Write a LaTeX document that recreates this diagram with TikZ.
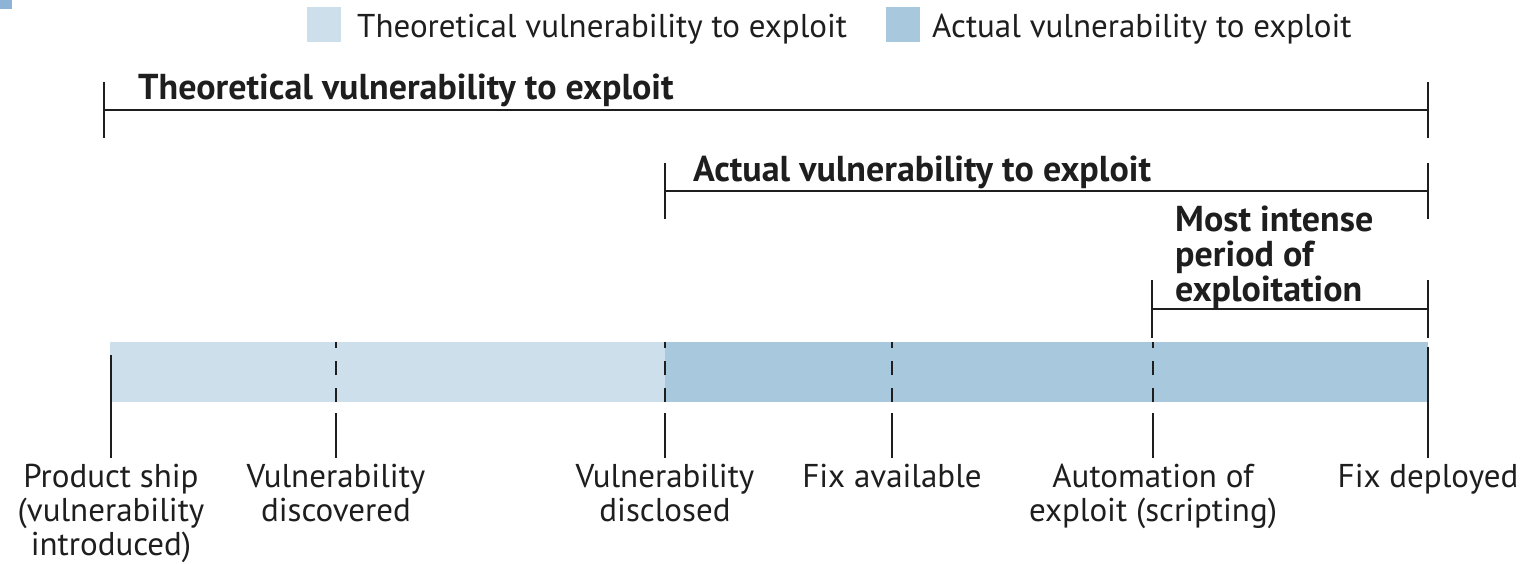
\documentclass[tikz,border=0pt]{standalone}
\usepackage{fontspec}
\setmainfont{PT Sans}
\usetikzlibrary{calc}
\definecolor{theo}{RGB}{205,223,235}
\definecolor{actual}{RGB}{168,200,222}
\definecolor{corner}{RGB}{141,180,214}
\definecolor{ink}{RGB}{30,30,30}
\begin{document}
\begin{tikzpicture}[x=1pt,y=-1pt,
  tickline/.style={draw=ink,line width=2.4pt},
  spanline/.style={draw=ink,line width=2pt},
  eventdash/.style={draw=ink,line width=2.6pt,dash pattern=on 14pt off 13pt},
  eventline/.style={draw=ink,line width=2.6pt},
  evlabel/.style={font=\fontsize{33}{34}\selectfont,align=center,inner sep=0pt,anchor=north,text=ink},
  spanlabel/.style={font=\fontsize{36}{35}\selectfont\bfseries,align=left,inner sep=0pt,anchor=north west,text=ink},
  legtext/.style={font=\fontsize{33}{34}\selectfont,inner sep=0pt,anchor=base west,text=ink}]
\useasboundingbox (0,0) rectangle (1527,563);

% corner mark
\fill[corner] (0,0) rectangle (12,9);

% legend
\fill[theo] (307,7) rectangle (341,42);
\node[legtext] (legA) at (357,37) {Theoretical vulnerability to exploit};
\fill[actual] (886,7) rectangle (920,42);
\node[legtext] (legB) at (932,37) {Actual vulnerability to exploit};

% timeline bar
\fill[theo] (110,342) rectangle (665,402);
\fill[actual] (665,342) rectangle (1428,402);

% span brackets
\coordinate (thL) at (104,110);
\coordinate (thR) at (1428,110);
\coordinate (acL) at (665,191);
\coordinate (acR) at (1428,191);
\coordinate (miL) at (1152,309);
\coordinate (miR) at (1428,309);

\draw[spanline] (thL) -- (thR);
\draw[tickline] ($(thL)+(0,-28)$) -- ($(thL)+(0,28)$);
\draw[tickline] ($(thR)+(0,-28)$) -- ($(thR)+(0,28)$);
\node[spanlabel] (thT) at (138,74) {Theoretical vulnerability to exploit};

\draw[spanline] (acL) -- (acR);
\draw[tickline] ($(acL)+(0,-28)$) -- ($(acL)+(0,28)$);
\draw[tickline] ($(acR)+(0,-28)$) -- ($(acR)+(0,28)$);
\node[spanlabel] (acT) at (693,156) {Actual vulnerability to exploit};

\draw[spanline] (miL) -- (miR);
\draw[tickline] ($(miL)+(0,-29)$) -- ($(miL)+(0,29)$);
\draw[tickline] ($(miR)+(0,-29)$) -- ($(miR)+(0,29)$);
\node[spanlabel] (miT) at (1175,206) {Most intense\\period of\\exploitation};

% events on the timeline
\coordinate (e1) at (111,402);
\coordinate (e2) at (336,402);
\coordinate (e3) at (665,402);
\coordinate (e4) at (892,402);
\coordinate (e5) at (1153,402);
\coordinate (e6) at (1428,402);

\foreach \e in {e2,e3,e4,e5}{
  \draw[eventdash] (\e) -- ($(\e)+(0,-60)$);
  \draw[eventline] ($(\e)+(0,11)$) -- ($(\e)+(0,56)$);
}
\draw[eventline] ($(e1)+(0,-47)$) -- ($(e1)+(0,56)$);
\draw[eventline] ($(e6)+(0,-55)$) -- ($(e6)+(0,56)$);

\node[evlabel] (l1) at ($(e1)+(0,62)$) {Product ship\\(vulnerability\\introduced)};
\node[evlabel] (l2) at ($(e2)+(0,62)$) {Vulnerability\\discovered};
\node[evlabel] (l3) at ($(e3)+(0,62)$) {Vulnerability\\disclosed};
\node[evlabel] (l4) at ($(e4)+(0,62)$) {Fix available};
\node[evlabel] (l5) at ($(e5)+(0,62)$) {Automation of\\exploit (scripting)};
\node[evlabel] (l6) at ($(e6)+(0,62)$) {Fix deployed};
\end{tikzpicture}
\end{document}
